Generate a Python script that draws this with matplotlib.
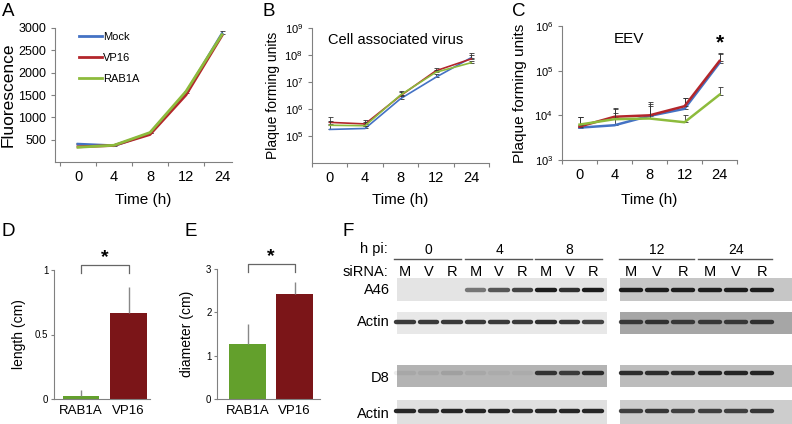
import numpy as np
import matplotlib
matplotlib.use('Agg')
import matplotlib.pyplot as plt
from matplotlib.patches import Rectangle

plt.rcParams['font.family'] = ['Liberation Sans', 'DejaVu Sans']
plt.rcParams['mathtext.fontset'] = 'custom'
plt.rcParams['mathtext.rm'] = 'Liberation Sans'
plt.rcParams['mathtext.default'] = 'regular'

W, H = 792, 424

# ---- data: time courses ----
time_labels = ['0', '4', '8', '12', '24']
series = ['Mock', 'VP16', 'RAB1A']
line_colors = ['#4472c4', '#b3262b', '#8dbb3c']

fluor_mock = [400, 365, 640, 1540, 2870]
fluor_vp16 = [340, 370, 615, 1500, 2830]
fluor_rab1a = [330, 375, 660, 1580, 2850]
fluor_err = [30, 10, 20, 40, 70]

cav_mock = [1.75e5, 1.9e5, 2.4e6, 1.5e7, 8.0e7]
cav_vp16 = [3.2e5, 2.8e5, 3.1e6, 2.6e7, 7.2e7]
cav_rab1a = [2.5e5, 2.4e5, 3.3e6, 2.3e7, 5.2e7]
cav_err_mock = [1.0e5, 0.5e5, 0.8e6, 0.4e7, 4.0e7]
cav_err_vp16 = [1.7e5, 1.0e5, 1.2e6, 0.6e7, 3.0e7]
cav_err_rab1a = [1.2e5, 0.8e5, 1.5e6, 0.5e7, 1.0e7]

eev_mock = [5.3e3, 6.0e3, 9.7e3, 1.4e4, 1.5e5]
eev_vp16 = [5.6e3, 9.3e3, 1.0e4, 1.6e4, 1.65e5]
eev_rab1a = [6.2e3, 8.2e3, 8.5e3, 7.0e3, 2.9e4]
eev_err_mock = [3.8e3, 8.0e3, 8.0e3, 1.0e4, 0.9e5]
eev_err_vp16 = [3.6e3, 5.0e3, 1.0e4, 0.85e4, 0.8e5]
eev_err_rab1a = [3.0e3, 3.3e3, 7.5e3, 3.3e3, 1.4e4]

# ---- data: bar charts ----
bar_labels = ['RAB1A', 'VP16']
bar_colors = ['#63a02c', '#7b1518']
length_vals = [0.02, 0.67]
length_err = [0.05, 0.2]
diam_vals = [1.26, 2.43]
diam_err = [0.46, 0.28]

# ---- data: western blots (band intensity 0..1 per lane) ----
hpi_left = ['0', '4', '8']
hpi_right = ['12', '24']
sirna = ['M', 'V', 'R']
row_names = ['A46', 'Actin', 'D8', 'Actin']
bands_left = [
    [0.0, 0.0, 0.0, 0.55, 0.7, 0.8, 1.0, 0.9, 1.0],
    [0.85, 0.85, 0.85, 0.85, 0.85, 0.85, 0.9, 0.85, 0.8],
    [0.08, 0.08, 0.12, 0.08, 0.05, 0.05, 0.85, 0.8, 0.9],
    [0.95, 0.9, 0.95, 0.95, 0.95, 0.9, 0.95, 0.95, 0.95],
]
bands_right = [
    [1.0, 1.0, 1.0, 1.0, 1.0, 1.0],
    [0.8, 0.85, 0.8, 0.8, 0.8, 0.85],
    [0.9, 0.9, 0.9, 0.95, 0.95, 0.95],
    [0.8, 0.85, 0.8, 0.8, 0.8, 0.85],
]
bg_left = ['#e4e4e4', '#e8e8e8', '#b3b3b3', '#e0e0e0']
bg_right = ['#c6c6c6', '#a6a6a6', '#bcbcbc', '#cdcdcd']

fig = plt.figure(figsize=(W / 100, H / 100), dpi=100)


def px_ax(l, t, r, b):
    return fig.add_axes([l / W, 1 - b / H, (r - l) / W, (b - t) / H])


def style(ax):
    for s in ['top', 'right']:
        ax.spines[s].set_visible(False)
    for s in ['left', 'bottom']:
        ax.spines[s].set_color('#808080')
        ax.spines[s].set_linewidth(0.8)
    ax.tick_params(colors='#808080', labelcolor='black', length=3, width=0.8)
    ax.tick_params(which='minor', colors='#808080', length=3, width=0.8)


def line_panel(ax, vals_list, err_list, lw):
    x = np.arange(len(time_labels))
    for vals, err, c, lab in zip(vals_list, err_list, line_colors, series):
        if err is not None:
            ax.errorbar(x, vals, yerr=[np.zeros(len(err)), err], fmt='none',
                        ecolor='#333333', elinewidth=0.6, capsize=1.8, capthick=0.6)
        ax.plot(x, vals, color=c, lw=lw, label=lab)
    ax.set_xticks(x)
    ax.set_xticklabels(time_labels, fontsize=10.5)
    ax.tick_params(axis='x', which='major', length=0, pad=6)
    ax.set_xticks(np.arange(-0.5, 4.6, 1.0), minor=True)
    ax.set_xlabel('Time (h)', fontsize=11)


# ---- A ----
axA = px_ax(55, 28, 232, 162)
style(axA)
line_panel(axA, [fluor_mock, fluor_vp16, fluor_rab1a], [fluor_err, None, None], 2.0)
axA.set_xlim(-0.64, 4.28)
axA.set_ylim(0, 3000)
axA.set_yticks([500, 1000, 1500, 2000, 2500, 3000])
axA.tick_params(axis='y', labelsize=9)
axA.set_ylabel('Fluorescence', fontsize=12.5)
axA.yaxis.set_label_coords((16 - 55) / 177, 0.5)
axA.xaxis.set_label_coords(0.5, -(193 - 162) / 134)
axA.legend(loc='upper left', bbox_to_anchor=(0.1, 1.02), frameon=False, fontsize=8,
           handlelength=2.0, handletextpad=0.1, labelspacing=1.0, borderaxespad=0.2)

# ---- B ----
axB = px_ax(312, 28, 489, 163)
style(axB)
line_panel(axB, [cav_mock, cav_vp16, cav_rab1a], [cav_err_mock, cav_err_vp16, cav_err_rab1a], 1.2)
axB.set_yscale('log')
axB.set_xlim(-0.5, 4.5)
axB.set_ylim(1e4, 1e9)
axB.set_yticks([1e5, 1e6, 1e7, 1e8, 1e9])
axB.set_yticklabels(['$10^{%d}$' % k for k in range(5, 10)], fontsize=8)
axB.yaxis.set_minor_locator(matplotlib.ticker.NullLocator())
axB.set_ylabel('Plaque forming units', fontsize=10)
axB.yaxis.set_label_coords((280 - 312) / 177, 0.5)
axB.xaxis.set_label_coords(0.5, -(193 - 163) / 135)
axB.text(0.09, 0.91, 'Cell associated virus', transform=axB.transAxes, fontsize=10.5,
         va='center', ha='left')

# ---- C ----
axC = px_ax(562, 26, 737, 160)
style(axC)
line_panel(axC, [eev_mock, eev_vp16, eev_rab1a], [eev_err_mock, eev_err_vp16, eev_err_rab1a], 1.8)
axC.set_yscale('log')
axC.set_xlim(-0.5, 4.5)
axC.set_ylim(1e3, 1e6)
axC.set_yticks([1e3, 1e4, 1e5, 1e6])
axC.set_yticklabels(['$10^{%d}$' % k for k in range(3, 7)], fontsize=8)
axC.yaxis.set_minor_locator(matplotlib.ticker.NullLocator())
axC.set_ylabel('Plaque forming units', fontsize=11)
axC.yaxis.set_label_coords((527 - 562) / 175, 0.5)
axC.xaxis.set_label_coords(0.5, -(193 - 160) / 134)
axC.text(0.38, 0.9, 'EEV', transform=axC.transAxes, fontsize=11, va='center', ha='center')
axC.text(4, 2.6e5, '*', fontsize=15, fontweight='bold', ha='center', va='bottom')


# ---- D, E ----
def bar_panel(ax, vals, errs, ylim, yticks, yticklabels, ylabel, lab_x_px, left_px, width_px):
    style(ax)
    x = np.arange(len(bar_labels))
    ax.bar(x, vals, width=0.77, color=bar_colors)
    ax.errorbar(x, vals, yerr=[np.zeros(len(errs)), errs], fmt='none', ecolor='#888888',
                elinewidth=1.0, capsize=0)
    ax.set_ylim(*ylim)
    ax.set_yticks(yticks)
    ax.set_yticklabels(yticklabels, fontsize=7)
    ax.tick_params(axis='y', length=2, pad=2)
    ax.set_xticks(x)
    ax.set_xticklabels(bar_labels, fontsize=9.5)
    ax.tick_params(axis='x', length=0, pad=4)
    ax.set_ylabel(ylabel, fontsize=10)
    ax.yaxis.set_label_coords((lab_x_px - left_px) / width_px, 0.5)
    top = ylim[1]
    ax.plot([0, 0, 1, 1], [top * 0.975, top * 1.035, top * 1.035, top * 0.975],
            color='#666666', lw=0.9, clip_on=False)
    ax.text(0.5, top * 1.03, '*', fontsize=14, fontweight='bold', ha='center', va='bottom')


axD = px_ax(54, 270, 150, 399)
bar_panel(axD, length_vals, length_err, (0, 1), [0, 0.5, 1], ['0', '0.5', '1'],
          'length (cm)', 26, 54, 96)
axD.set_xlim(-0.57, 1.45)

axE = px_ax(217, 269, 320, 399)
bar_panel(axE, diam_vals, diam_err, (0, 3), [0, 1, 2, 3], ['0', '1', '2', '3'],
          'diameter (cm)', 194, 217, 103)
axE.set_xlim(-0.65, 1.54)

# ---- F: western blots ----
row_top = [278, 312, 365, 400]
row_bot = [301, 334, 387, 424]
band_y = [290, 322, 373, 411]


def blot(ax, bands, bgs, hpi, x0, x1):
    ax.set_ylim(424, 240)
    ax.axis('off')
    for r in range(len(row_names)):
        ax.add_patch(Rectangle((x0, row_top[r]), x1 - x0, row_bot[r] - row_top[r],
                               facecolor=bgs[r], edgecolor='none'))
        for lane, inten in enumerate(bands[r]):
            if inten > 0:
                ax.plot([lane - 0.38, lane + 0.38], [band_y[r], band_y[r]], color='#1c1c1c',
                        alpha=inten, lw=3.2, solid_capstyle='round')
    for g, lab in enumerate(hpi):
        c = g * 3 + 1
        ax.plot([c - 1.45, c + 1.4], [259, 259], color='#555555', lw=1.0)
        ax.text(c, 250, lab, ha='center', va='center', fontsize=10)
        for k, s in enumerate(sirna):
            ax.text(g * 3 + k, 272, s, ha='center', va='center', fontsize=10.5)


axFL = px_ax(390, 240, 607, 424)
axFL.set_xlim((390 - 405) / 23.5, (607 - 405) / 23.5)
blot(axFL, bands_left, bg_left, hpi_left, (397 - 405) / 23.5, (607 - 405) / 23.5)

axFR = px_ax(615, 240, 792, 424)
axFR.set_xlim((615 - 631) / 26.2, (792 - 631) / 26.2)
blot(axFR, bands_right, bg_right, hpi_right, (620 - 631) / 26.2, (792 - 631) / 26.2)

# ---- overlay text ----
ov = fig.add_axes([0, 0, 1, 1])
ov.set_xlim(0, W)
ov.set_ylim(H, 0)
ov.axis('off')
for lab, (px, py) in zip('ABCDEF', [(8, 11), (269, 11), (519, 12), (8, 232), (191, 232), (348, 231)]):
    ov.text(px, py, lab, fontsize=13.5, ha='center', va='center')
ov.text(388, 249, 'h pi:', fontsize=10.5, ha='right', va='center')
ov.text(388, 272, 'siRNA:', fontsize=10.5, ha='right', va='center')
for name, y in zip(row_names, [290, 322, 378, 414]):
    ov.text(390, y, name, fontsize=10.5, ha='right', va='center')

fig.savefig('out.png', dpi=100)
